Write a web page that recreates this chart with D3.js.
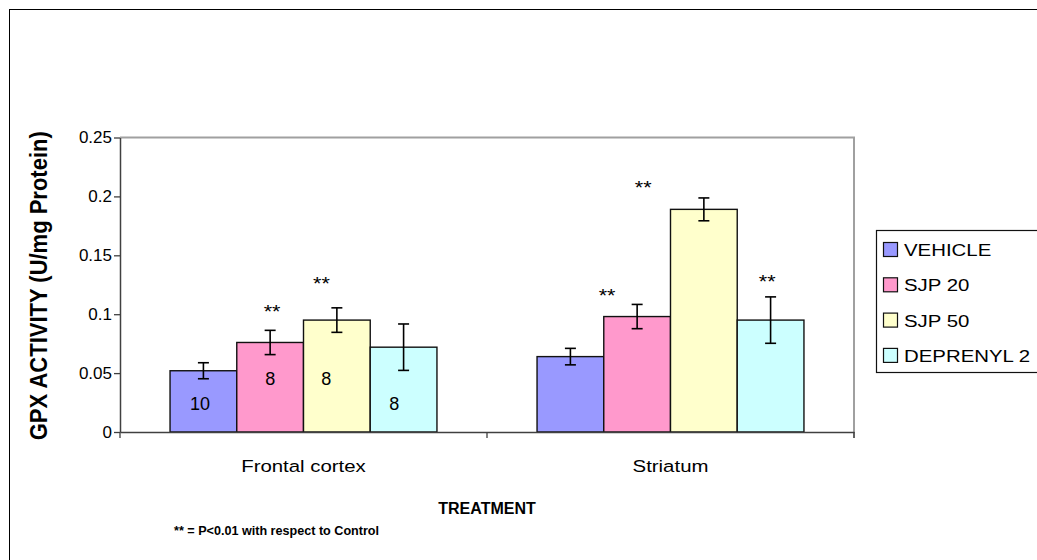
<!DOCTYPE html>
<html>
<head>
<meta charset="utf-8">
<script src="https://cdn.jsdelivr.net/npm/d3@7"></script>
<style>
  html, body { margin: 0; padding: 0; background: #fff; }
  svg { display: block; font-family: Arial, "Liberation Sans", sans-serif; }
</style>
</head>
<body>
<svg id="chart" width="1037" height="560"></svg>
<script>
// ---- data ----
const categories = ["Frontal cortex", "Striatum"];
const seriesNames = ["VEHICLE", "SJP 20", "SJP 50", "DEPRENYL 2"];
const seriesColors = ["#9999FF", "#FF99CC", "#FFFFCC", "#CCFFFF"];
// values per series: [Frontal cortex, Striatum]
const vehicle   = [0.052, 0.064];
const sjp20     = [0.076, 0.098];
const sjp50     = [0.095, 0.189];
const deprenyl  = [0.072, 0.095];
const vehicleErr  = [0.0068, 0.0070];
const sjp20Err    = [0.0103, 0.0103];
const sjp50Err    = [0.0104, 0.0097];
const deprenylErr = [0.0197, 0.0197];
const yTicks = [0, 0.05, 0.1, 0.15, 0.2, 0.25];
const yTickLabels = ["0", "0.05", "0.1", "0.15", "0.2", "0.25"];
// "**" annotations: category index, position in series units, value level
const starCat   = [0, 0, 1, 1, 1];
const starPos   = [1.03, 1.77, 0.55, 1.09, 2.95];
const starVal   = [0.1053, 0.129, 0.119, 0.2105, 0.1307];
// n labels in Frontal cortex bars
const nLabels   = ["10", "8", "8", "8"];
const nPos      = [-0.05, 1.0, 1.84, 2.86];
const nVal      = [0.0238, 0.0458, 0.0458, 0.0238];

const values = [vehicle, sjp20, sjp50, deprenyl];
const errors = [vehicleErr, sjp20Err, sjp50Err, deprenylErr];

// ---- layout ----
const SX = 1.2; // horizontal text stretch of the original picture
const svg = d3.select("#chart");
const plot = { left: 120, right: 854, top: 137.5, bottom: 432 };

function stretch(sel, k) {
  sel.each(function () {
    const t = d3.select(this);
    const x = +t.attr("x") || 0;
    t.attr("x", x / k).attr("transform", `scale(${k},1)`);
  });
  return sel;
}

// outer frame
svg.append("rect").attr("x", 9.5).attr("y", 9.5).attr("width", 1100).attr("height", 600)
  .attr("fill", "#fff").attr("stroke", "#000").attr("stroke-width", 1);

const x0 = d3.scaleBand().domain(d3.range(categories.length))
  .range([plot.left, plot.right]).paddingInner(0).paddingOuter(0);
const x1 = d3.scaleBand().domain(d3.range(seriesNames.length))
  .range([0, x0.bandwidth()]).paddingInner(0).paddingOuter(0.75);
const y = d3.scaleLinear().domain([0, 0.25]).range([plot.bottom, plot.top]);

const posX = (c, p) => x0(c) + x1(0) + x1.step() * (p + 0.5);

// plot area border (top + right) gray
svg.append("path")
  .attr("d", `M${plot.left},${plot.top}H${plot.right}V${plot.bottom + 6}`)
  .attr("fill", "none").attr("stroke", "#A0A0A0").attr("stroke-width", 2);

// bars
const data = [];
seriesNames.forEach((s, si) => categories.forEach((c, ci) => {
  data.push({ si, ci, v: values[si][ci], e: errors[si][ci] });
}));

svg.append("g").selectAll("rect").data(data).join("rect")
  .attr("x", d => x0(d.ci) + x1(d.si))
  .attr("y", d => y(d.v))
  .attr("width", x1.bandwidth())
  .attr("height", d => y(0) - y(d.v))
  .attr("fill", d => seriesColors[d.si])
  .attr("stroke", "#111").attr("stroke-width", 1.4);

// error bars
const eg = svg.append("g").attr("stroke", "#000").attr("stroke-width", 1.6);
data.forEach(d => {
  const cx = x0(d.ci) + x1(d.si) + x1.bandwidth() / 2;
  eg.append("line").attr("x1", cx).attr("x2", cx).attr("y1", y(d.v + d.e)).attr("y2", y(d.v - d.e));
  [d.v + d.e, d.v - d.e].forEach(v => {
    eg.append("line").attr("x1", cx - 5.5).attr("x2", cx + 5.5).attr("y1", y(v)).attr("y2", y(v));
  });
});

// y axis
const yAxis = d3.axisLeft(y).tickValues(yTicks)
  .tickFormat((d, i) => yTickLabels[i]).tickSize(6).tickPadding(2).tickSizeOuter(0);
const yg = svg.append("g").attr("transform", `translate(${plot.left},0)`).call(yAxis);
yg.select(".domain").attr("stroke", "#404040").attr("stroke-width", 1.5);
yg.selectAll(".tick line").attr("stroke", "#404040").attr("stroke-width", 1.3);
yg.selectAll(".tick text").attr("font-size", 17).attr("fill", "#000")
  .attr("font-family", "Arial, 'Liberation Sans', sans-serif");

// x axis
const xAxis = d3.axisBottom(x0).tickFormat(i => categories[i]).tickSize(0).tickPadding(0);
const xg = svg.append("g").attr("transform", `translate(0,${plot.bottom})`).call(xAxis);
xg.select(".domain").attr("stroke", "#404040").attr("stroke-width", 1.5);
const xt = xg.selectAll(".tick text").attr("font-size", 17).attr("fill", "#000")
  .attr("font-family", "Arial, 'Liberation Sans', sans-serif")
  .attr("dy", null).attr("y", 40);
stretch(xt, SX);
// category separator ticks
const sepTicks = [0, 1, 2].map(i => plot.left + x0.step() * i);
svg.append("g").selectAll("line").data(sepTicks).join("line")
  .attr("x1", d => d).attr("x2", d => d)
  .attr("y1", plot.bottom).attr("y2", plot.bottom + 6)
  .attr("stroke", "#404040").attr("stroke-width", 1.3);

// axis titles
svg.append("text")
  .attr("transform", `translate(47,${(plot.top + plot.bottom) / 2 + 1}) scale(1.1,1) rotate(-90)`)
  .attr("text-anchor", "middle").attr("font-size", 22).attr("font-weight", "bold")
  .text("GPX ACTIVITY (U/mg Protein)");
svg.append("text").attr("x", (plot.left + plot.right) / 2).attr("y", 514)
  .attr("text-anchor", "middle").attr("font-size", 16).attr("font-weight", "bold")
  .text("TREATMENT");
svg.append("text").attr("x", 174).attr("y", 535)
  .attr("font-size", 12.6).attr("font-weight", "bold")
  .text("** = P<0.01 with respect to Control");

// annotations
stretch(svg.append("g").selectAll("text").data(starPos).join("text")
  .attr("x", (p, i) => posX(starCat[i], p))
  .attr("y", (p, i) => y(starVal[i]) + 10)
  .attr("text-anchor", "middle").attr("font-size", 18)
  .text("**"), SX);
svg.append("g").selectAll("text").data(nLabels).join("text")
  .attr("x", (t, i) => posX(0, nPos[i]))
  .attr("y", (t, i) => y(nVal[i]) + 6.5)
  .attr("text-anchor", "middle").attr("font-size", 18)
  .text(t => t);

// legend
const lg = svg.append("g");
lg.append("rect").attr("x", 876.5).attr("y", 230.5).attr("width", 300).attr("height", 142)
  .attr("fill", "#fff").attr("stroke", "#111").attr("stroke-width", 1.2);
const rows = lg.selectAll("g.item").data(seriesNames).join("g").attr("class", "item")
  .attr("transform", (d, i) => `translate(0,${249 + i * 35.3})`);
rows.append("rect").attr("x", 883.5).attr("y", -6.5).attr("width", 14).attr("height", 14)
  .attr("fill", (d, i) => seriesColors[i]).attr("stroke", "#111").attr("stroke-width", 1.2);
stretch(rows.append("text").attr("x", 904).attr("y", 7).attr("font-size", 17).text(d => d), SX);
</script>
</body>
</html>
